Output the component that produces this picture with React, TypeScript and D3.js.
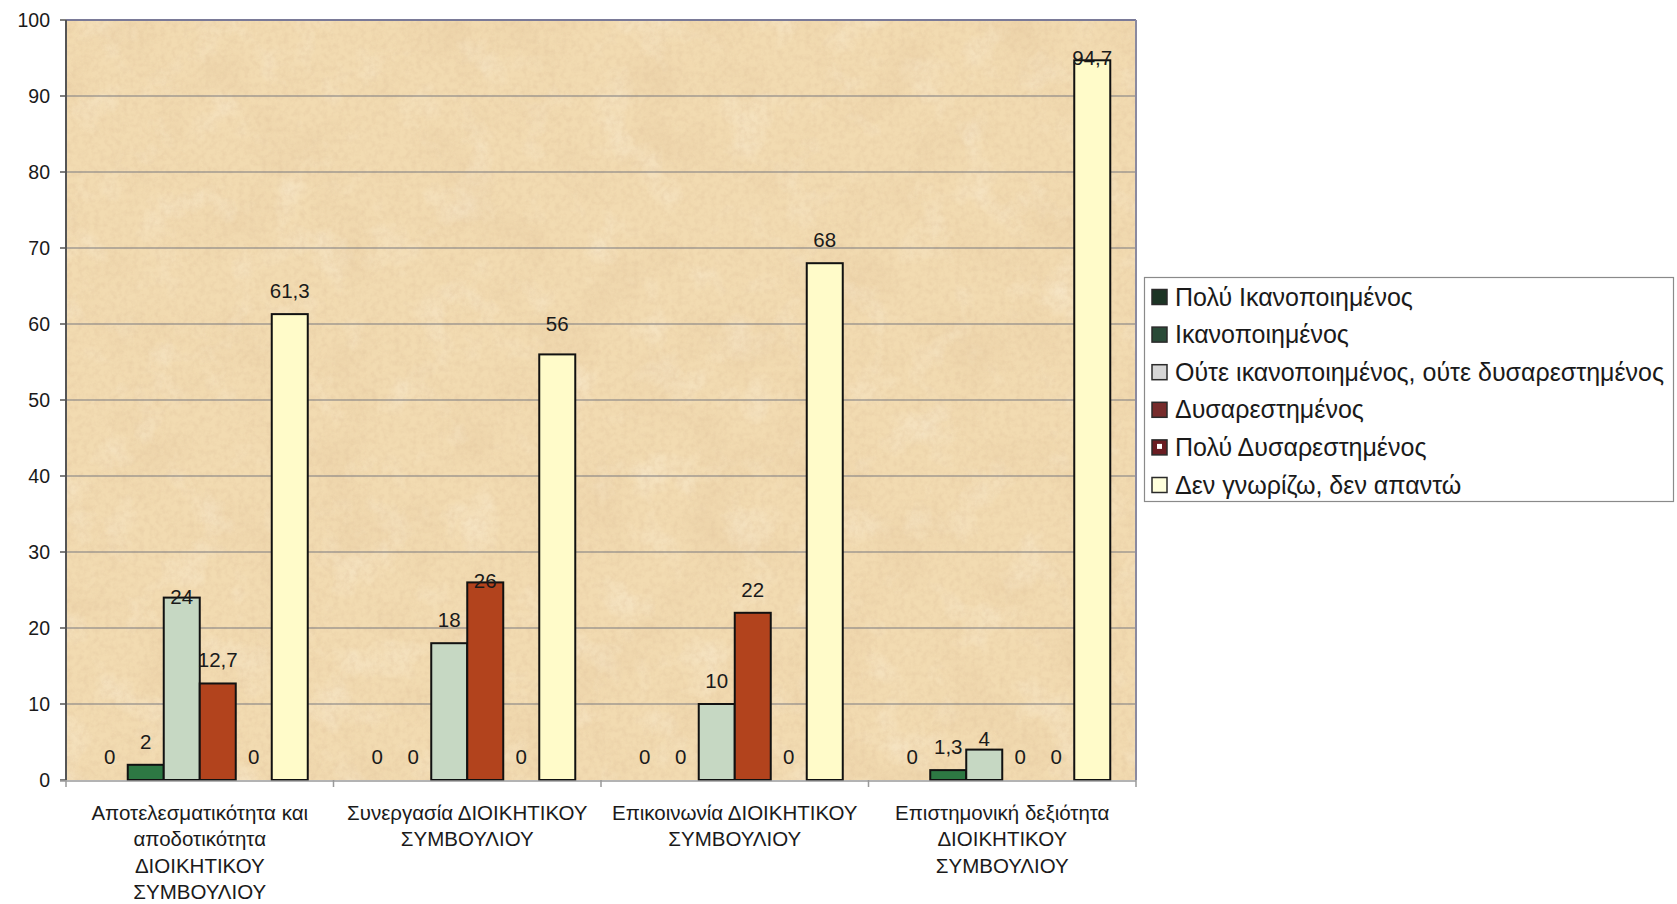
import React from "react";
import * as d3 from "d3";

// Survey categories (line breaks mark how each axis label wraps)
const categories: string[] = [
  "Αποτελεσματικότητα και\nαποδοτικότητα\nΔΙΟΙΚΗΤΙΚΟΥ\nΣΥΜΒΟΥΛΙΟΥ",
  "Συνεργασία ΔΙΟΙΚΗΤΙΚΟΥ\nΣΥΜΒΟΥΛΙΟΥ",
  "Επικοινωνία ΔΙΟΙΚΗΤΙΚΟΥ\nΣΥΜΒΟΥΛΙΟΥ",
  "Επιστημονική δεξιότητα\nΔΙΟΙΚΗΤΙΚΟΥ\nΣΥΜΒΟΥΛΙΟΥ",
];

const seriesNames: string[] = [
  "Πολύ Ικανοποιημένος",
  "Ικανοποιημένος",
  "Ούτε ικανοποιημένος, ούτε δυσαρεστημένος",
  "Δυσαρεστημένος",
  "Πολύ Δυσαρεστημένος",
  "Δεν γνωρίζω, δεν απαντώ",
];

// Percentages per series, one value per category
const veryPleased: number[] = [0, 0, 0, 0];
const pleased: number[] = [2, 0, 0, 1.3];
const neutral: number[] = [24, 18, 10, 4];
const displeased: number[] = [12.7, 26, 22, 0];
const veryDispleased: number[] = [0, 0, 0, 0];
const noAnswer: number[] = [61.3, 56, 68, 94.7];

const yTicks: number[] = [0, 10, 20, 30, 40, 50, 60, 70, 80, 90, 100];

const seriesValues: number[][] = [veryPleased, pleased, neutral, displeased, veryDispleased, noAnswer];

const barColors = ["#1d5a31", "#2d7843", "#c6d8c3", "#b2431d", "#7a1f22", "#fffbc9"];
const legendColors = ["#1b3424", "#294a37", "#d6d6d6", "#762b2b", "#6a1c22", "#ffffdc"];

// Hand-placed label adjustments (px, positive = down) for crowded labels
const labelShift: Record<string, number> = { "0-2": 22, "1-3": 22, "3-5": 21, "1-5": -7, "3-2": 12 };

const W = 1677;
const H = 904;
const plot = { left: 66, right: 1136, top: 20, bottom: 780 };
const FONT = "'Liberation Sans', Arial, sans-serif";

export default function App() {
  const x0 = d3.scaleBand<number>().domain(d3.range(categories.length)).range([plot.left, plot.right]).padding(0);
  const x1 = d3
    .scaleBand<number>()
    .domain(d3.range(seriesNames.length))
    .range([0, x0.bandwidth()])
    .paddingInner(0)
    .paddingOuter(0.715);
  const y = d3.scaleLinear().domain([0, 100]).range([plot.bottom, plot.top]);
  const fmt = (v: number) => String(v).replace(".", ",");
  const pw = plot.right - plot.left;
  const ph = plot.bottom - plot.top;

  return (
    <svg
      width={W}
      height={H}
      viewBox={`0 0 ${W} ${H}`}
      style={{ position: "absolute", left: 0, top: 0, display: "block", background: "#fff" }}
      fontFamily={FONT}
    >
      <defs>
        <filter id="mottle" x="0" y="0" width="100%" height="100%">
          <feTurbulence type="fractalNoise" baseFrequency="0.016" numOctaves={5} seed={7} result="n" />
          <feColorMatrix
            in="n"
            type="matrix"
            values="0 0 0 0 0.80  0 0 0 0 0.60  0 0 0 0 0.36  1.7 0 0 0 -0.8"
          />
        </filter>
        <filter id="light" x="0" y="0" width="100%" height="100%">
          <feTurbulence type="fractalNoise" baseFrequency="0.022" numOctaves={4} seed={21} result="n" />
          <feColorMatrix
            in="n"
            type="matrix"
            values="0 0 0 0 0.98  0 0 0 0 0.92  0 0 0 0 0.80  0 1.6 0 0 -0.85"
          />
        </filter>
        <filter id="grain" x="0" y="0" width="100%" height="100%">
          <feTurbulence type="fractalNoise" baseFrequency="0.18" numOctaves={3} seed={3} result="n" />
          <feColorMatrix
            in="n"
            type="matrix"
            values="0 0 0 0 0.72  0 0 0 0 0.52  0 0 0 0 0.32  0 0 1.6 0 -0.62"
          />
        </filter>
      </defs>

      {/* parchment plot background */}
      <rect x={plot.left} y={plot.top} width={pw} height={ph} fill="#f2dbb1" />
      <rect x={plot.left} y={plot.top} width={pw} height={ph} filter="url(#mottle)" opacity={0.6} />
      <rect x={plot.left} y={plot.top} width={pw} height={ph} filter="url(#light)" opacity={0.55} />
      <rect x={plot.left} y={plot.top} width={pw} height={ph} filter="url(#grain)" opacity={0.4} />

      {/* gridlines */}
      {yTicks.slice(1, -1).map((t) => (
        <line key={t} x1={plot.left} x2={plot.right} y1={y(t)} y2={y(t)} stroke="#7b7b80" strokeWidth={1.2} />
      ))}

      {/* frame */}
      <line x1={plot.left} x2={plot.right} y1={plot.top} y2={plot.top} stroke="#7a7a98" strokeWidth={2} />
      <line x1={plot.right} x2={plot.right} y1={plot.top} y2={plot.bottom} stroke="#8a8aa0" strokeWidth={2} />

      {/* bars */}
      {categories.map((_, ci) =>
        seriesValues.map((vals, si) => {
          const v = vals[ci];
          const bx = (x0(ci) as number) + (x1(si) as number);
          const by = y(v);
          return v > 0 ? (
            <rect
              key={`b-${ci}-${si}`}
              x={bx}
              y={by}
              width={x1.bandwidth()}
              height={y(0) - by}
              fill={barColors[si]}
              stroke="#111"
              strokeWidth={2}
            />
          ) : null;
        })
      )}

      {/* value labels */}
      {categories.map((_, ci) =>
        seriesValues.map((vals, si) => {
          const v = vals[ci];
          const cx = (x0(ci) as number) + (x1(si) as number) + x1.bandwidth() / 2;
          const shift = labelShift[`${ci}-${si}`] ?? 0;
          return (
            <text
              key={`l-${ci}-${si}`}
              x={cx}
              y={y(v) - 16 + shift}
              textAnchor="middle"
              fontSize={20.5}
              fill="#1a1a1a"
            >
              {fmt(v)}
            </text>
          );
        })
      )}

      {/* y axis */}
      <line x1={plot.left} x2={plot.left} y1={plot.top} y2={plot.bottom} stroke="#555" strokeWidth={2} />
      {yTicks.map((t) => (
        <g key={t}>
          <line x1={plot.left - 6} x2={plot.left} y1={y(t)} y2={y(t)} stroke="#555" strokeWidth={1.5} />
          <text x={50} y={y(t) + 7} textAnchor="end" fontSize={19.5} fill="#1a1a1a">
            {t}
          </text>
        </g>
      ))}

      {/* x axis */}
      <line x1={plot.left - 6} x2={plot.right} y1={plot.bottom + 1} y2={plot.bottom + 1} stroke="#9a9a9a" strokeWidth={1.5} />
      {d3.range(categories.length + 1).map((i) => {
        const tx = plot.left + i * x0.step();
        return <line key={i} x1={tx} x2={tx} y1={plot.bottom} y2={plot.bottom + 7} stroke="#9a9a9a" strokeWidth={1.5} />;
      })}
      {categories.map((c, ci) => {
        const cx = (x0(ci) as number) + x0.bandwidth() / 2;
        return (
          <text key={c} textAnchor="middle" fontSize={20.5} fill="#1a1a1a">
            {c.split("\n").map((line, li) => (
              <tspan key={li} x={cx} y={819.5 + li * 26.5}>
                {line}
              </tspan>
            ))}
          </text>
        );
      })}

      {/* legend */}
      <g>
        <rect x={1144.5} y={277.5} width={529} height={224} fill="#fff" stroke="#8a8a8a" strokeWidth={1.2} />
        {seriesNames.map((name, i) => {
          const cy = 296.5 + i * 37.6;
          return (
            <g key={name}>
              <rect x={1152} y={cy - 7} width={15} height={15} fill={legendColors[i]} stroke="#2a2a2a" strokeWidth={1.5} />
              {i === 4 ? <rect x={1157} y={cy - 3} width={5} height={5} fill="#fff" /> : null}
              <text x={1175} y={cy + 9} fontSize={25} fill="#1a1a1a">
                {name}
              </text>
            </g>
          );
        })}
      </g>
    </svg>
  );
}
